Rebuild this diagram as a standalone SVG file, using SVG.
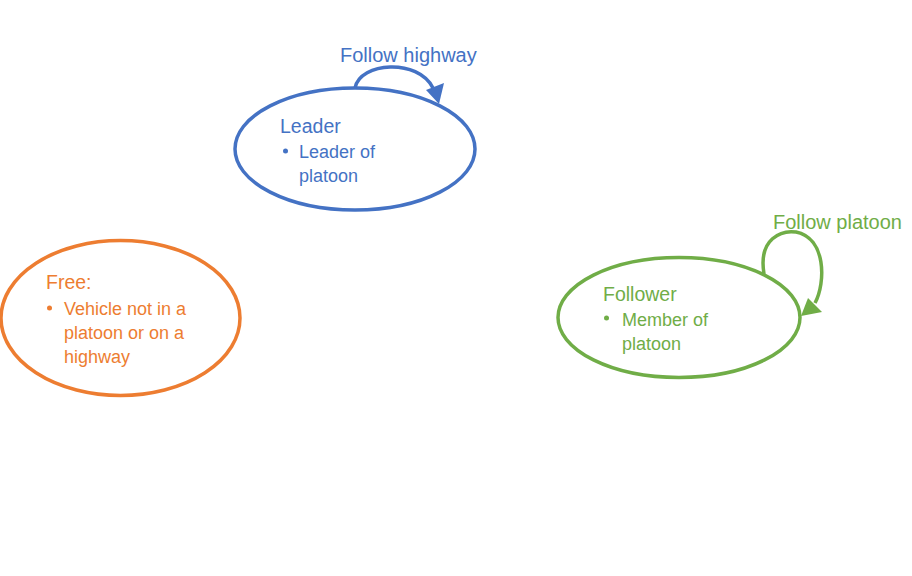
<svg xmlns="http://www.w3.org/2000/svg" width="912" height="576" viewBox="0 0 912 576">
<style>
text{font-family:"Liberation Sans",Arial,sans-serif}
.node{fill:#fff;stroke-width:3.5}
.title{font-size:19.5px}
.body{font-size:18px}
.lbl{font-size:20px}
.blue{fill:#4472C4}.orange{fill:#ED7D31}.green{fill:#70AD47}
.loop{fill:none;stroke-width:3.5}
</style>
<rect width="912" height="576" fill="#fff"/>
<g id="leader">
<ellipse class="node" cx="355" cy="149" rx="120" ry="61" stroke="#4472C4"/>
<text class="title blue" x="280" y="133">Leader</text>
<circle class="blue" cx="285.5" cy="151" r="2.5"/>
<text class="body blue" x="299" y="158">Leader of</text>
<text class="body blue" x="299" y="182">platoon</text>
</g>
<g id="free">
<ellipse class="node" cx="120.5" cy="318" rx="119.5" ry="77.5" stroke="#ED7D31"/>
<text class="title orange" x="46" y="289">Free:</text>
<circle class="orange" cx="49.5" cy="308" r="2.5"/>
<text class="body orange" x="64" y="315">Vehicle not in a</text>
<text class="body orange" x="64" y="339">platoon or on a</text>
<text class="body orange" x="64" y="363">highway</text>
</g>
<g id="follower">
<ellipse class="node" cx="679" cy="317.5" rx="121" ry="60" stroke="#70AD47"/>
<text class="title green" x="603" y="301">Follower</text>
<circle class="green" cx="606.5" cy="318" r="2.5"/>
<text class="body green" x="622" y="326">Member of</text>
<text class="body green" x="622" y="350">platoon</text>
</g>
<g id="connectors">
<path class="loop" stroke="#4472C4" d="M355,88 C360,62 418,58 433,88"/>
<polygon class="blue" points="426,90 444,83 439,104"/>
<text class="lbl blue" x="340" y="62">Follow highway</text>
<path class="loop" stroke="#70AD47" d="M764,274 C758,238 782,230 796,232 C826,238 826,282 815,303"/>
<polygon class="green" points="808,298 822,312 801,316"/>
<text class="lbl green" x="773" y="229">Follow platoon</text>
</g>
</svg>
